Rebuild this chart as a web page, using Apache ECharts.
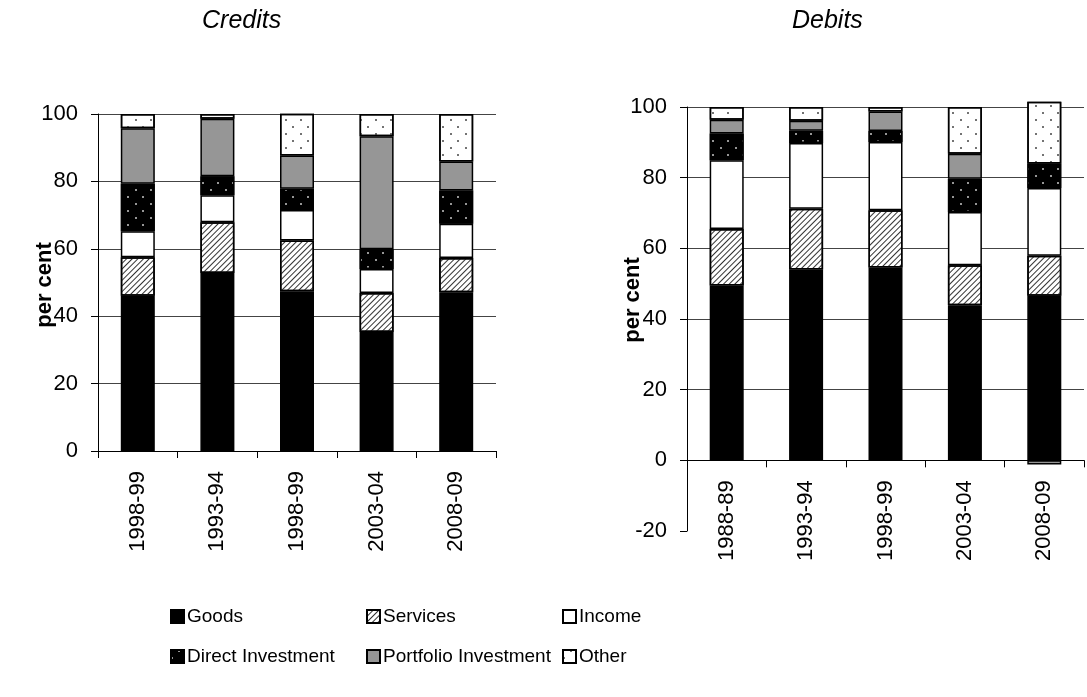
<!DOCTYPE html>
<html>
<head>
<meta charset="utf-8">
<title>Credits and Debits</title>
<script src="https://cdn.jsdelivr.net/npm/echarts@6/dist/echarts.min.js"></script>
<style>
  html, body { margin: 0; padding: 0; background: #fff; }
  #chart { width: 1087px; height: 697px; }
</style>
</head>
<body>
<div id="chart"></div>
<script>
// categories
const creditYears = ["1998-99", "1993-94", "1998-99", "2003-04", "2008-09"];
const debitYears = ["1988-89", "1993-94", "1998-99", "2003-04", "2008-09"];
const seriesNames = ["Goods", "Services", "Income", "Direct Investment", "Portfolio Investment", "Other"];

// credits, per cent of total
const creditGoods = [46.1, 52.8, 47.4, 35.3, 47.1];
const creditServices = [11.4, 15.1, 15.1, 11.6, 10.2];
const creditIncome = [7.7, 8.0, 9.0, 7.1, 10.1];
const creditDirect = [14.1, 5.6, 6.3, 5.9, 9.9];
const creditPortfolio = [16.5, 17.1, 9.9, 33.5, 8.6];
const creditOther = [4.2, 1.4, 12.4, 6.6, 14.1];

// debits, per cent of total
const debitGoods = [49.5, 54.0, 54.6, 43.9, 46.6];
const debitServices = [16.0, 17.2, 16.2, 11.3, 11.3];
const debitIncome = [19.4, 18.6, 19.3, 15.1, 19.2];
const debitDirect = [7.6, 3.5, 3.1, 9.4, 6.9];
const debitPortfolio = [3.9, 2.8, 5.5, 7.1, -1.2];
const debitOther = [3.6, 3.9, 1.3, 13.2, 17.5];

// axis ticks
const creditTicks = { min: 0, max: 100, step: 20 };
const debitTicks = { min: -20, max: 100, step: 20 };

const FONT = "'Liberation Sans', Arial, sans-serif";

// fills (patterns drawn with decals)
const fills = {
  "Goods": { color: "#000" },
  "Services": {
    color: "#fff",
    decal: { symbol: "rect", symbolSize: 1, color: "#333", dashArrayX: [1, 0], dashArrayY: [1, 2.5], rotation: -Math.PI / 4 }
  },
  "Income": { color: "#fff" },
  "Direct Investment": {
    color: "#000",
    decal: { symbol: "circle", symbolSize: 1, color: "#c8c8c8", dashArrayX: [[2, 13], [0, 7, 2, 6]], dashArrayY: [2, 5] }
  },
  "Portfolio Investment": { color: "#969696" },
  "Other": {
    color: "#fff",
    decal: { symbol: "circle", symbolSize: 1, color: "#444", dashArrayX: [[2, 13], [0, 7, 2, 6]], dashArrayY: [2, 5] }
  }
};

function makeSeries(values, stack, idx) {
  return seriesNames.map(function (name, i) {
    return {
      name: name,
      type: "bar",
      stack: stack,
      xAxisIndex: idx,
      yAxisIndex: idx,
      barWidth: 34,
      clip: false,
      data: values[i],
      itemStyle: Object.assign({ borderColor: "#000", borderWidth: 1.5 }, fills[name]),
      emphasis: { disabled: true }
    };
  });
}

function xAxisFor(idx, cats, visible) {
  return {
    type: "category",
    gridIndex: idx,
    data: cats,
    show: visible,
    axisLine: { onZero: false, lineStyle: { color: "#000", width: 1 } },
    axisTick: { show: true, length: 7, lineStyle: { color: "#000" } },
    axisLabel: { rotate: 90, fontSize: 22, color: "#000", margin: 20, fontFamily: FONT }
  };
}

function yAxisFor(idx, t, visible) {
  return {
    type: "value",
    gridIndex: idx,
    show: visible,
    min: t.min,
    max: t.max,
    interval: t.step,
    axisLine: { show: true, lineStyle: { color: "#000", width: 1 } },
    axisTick: { show: true, length: 7, lineStyle: { color: "#000" } },
    axisLabel: { fontSize: 22, color: "#000", margin: 20, fontFamily: FONT },
    splitLine: { show: visible, showMinLine: false, lineStyle: { color: "#444", width: 1 } }
  };
}

// legend: one component per item so the columns line up
const legendSpots = [
  [170, 607], [366, 607], [562, 607],
  [170, 647], [366, 647], [562, 647]
];
const legends = seriesNames.map(function (name, i) {
  return {
    data: [name],
    left: legendSpots[i][0],
    top: legendSpots[i][1],
    padding: 0,
    icon: "rect",
    itemWidth: 13,
    itemHeight: 13,
    itemGap: 0,
    selectedMode: false,
    textStyle: { fontSize: 19, color: "#000", fontFamily: FONT, padding: [0, 0, 0, -2] }
  };
});

// debits plot: grid 1 holds the bars and the -20..100 scale,
// grid 2 (same box, ending at the zero line) carries the category axis
const debitTop = 107;
const debitHeight = 424;
const debitZeroHeight = debitHeight * debitTicks.max / (debitTicks.max - debitTicks.min);

let myChart = echarts.init(document.getElementById("chart"));
myChart.setOption({
  animation: false,
  backgroundColor: "#fff",
  title: [
    { text: "Credits", left: 197, top: 4, textStyle: { fontSize: 25, fontStyle: "italic", fontWeight: "normal", color: "#000", fontFamily: FONT } },
    { text: "Debits", left: 787, top: 4, textStyle: { fontSize: 25, fontStyle: "italic", fontWeight: "normal", color: "#000", fontFamily: FONT } }
  ],
  legend: legends,
  grid: [
    { left: 98, top: 114, width: 398, height: 337 },
    { left: 687, top: debitTop, width: 397, height: debitHeight },
    { left: 687, top: debitTop, width: 397, height: debitZeroHeight }
  ],
  xAxis: [
    xAxisFor(0, creditYears, true),
    xAxisFor(1, debitYears, false),
    xAxisFor(2, debitYears, true)
  ],
  yAxis: [
    yAxisFor(0, creditTicks, true),
    yAxisFor(1, debitTicks, true),
    yAxisFor(2, { min: 0, max: 100, step: 20 }, false)
  ],
  graphic: [
    { type: "text", x: 45, y: 285, rotation: Math.PI / 2, style: { text: "per cent", font: "bold 22px " + FONT, fill: "#000", align: "center", verticalAlign: "middle" } },
    { type: "text", x: 633, y: 300, rotation: Math.PI / 2, style: { text: "per cent", font: "bold 22px " + FONT, fill: "#000", align: "center", verticalAlign: "middle" } }
  ],
  series: makeSeries([creditGoods, creditServices, creditIncome, creditDirect, creditPortfolio, creditOther], "credits", 0)
    .concat(makeSeries([debitGoods, debitServices, debitIncome, debitDirect, debitPortfolio, debitOther], "debits", 1))
});
</script>
</body>
</html>
